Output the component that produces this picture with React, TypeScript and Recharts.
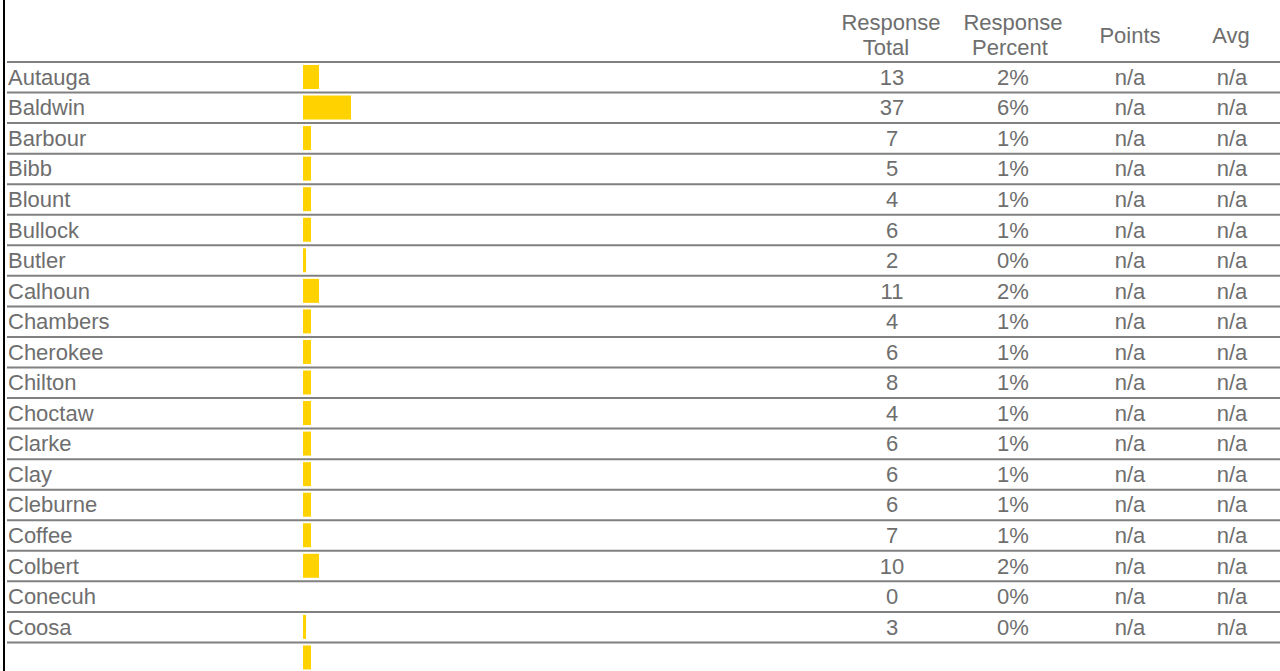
import React from 'react';
import { BarChart, Bar, XAxis, YAxis } from 'recharts';

const counties = ['Autauga', 'Baldwin', 'Barbour', 'Bibb', 'Blount', 'Bullock', 'Butler', 'Calhoun', 'Chambers', 'Cherokee', 'Chilton', 'Choctaw', 'Clarke', 'Clay', 'Cleburne', 'Coffee', 'Colbert', 'Conecuh', 'Coosa', ''];
const responseTotals = ['13', '37', '7', '5', '4', '6', '2', '11', '4', '6', '8', '4', '6', '6', '6', '7', '10', '0', '3', ''];
const responsePercents = ['2%', '6%', '1%', '1%', '1%', '1%', '0%', '2%', '1%', '1%', '1%', '1%', '1%', '1%', '1%', '1%', '2%', '0%', '0%', ''];
const barPercents = [2, 6, 1, 1, 1, 1, 0.375, 2, 1, 1, 1, 1, 1, 1, 1, 1, 2, 0, 0.375, 1];
const pointsValues = ['n/a', 'n/a', 'n/a', 'n/a', 'n/a', 'n/a', 'n/a', 'n/a', 'n/a', 'n/a', 'n/a', 'n/a', 'n/a', 'n/a', 'n/a', 'n/a', 'n/a', 'n/a', 'n/a', ''];
const avgValues = ['n/a', 'n/a', 'n/a', 'n/a', 'n/a', 'n/a', 'n/a', 'n/a', 'n/a', 'n/a', 'n/a', 'n/a', 'n/a', 'n/a', 'n/a', 'n/a', 'n/a', 'n/a', 'n/a', ''];
const headerLines = [
  { text: 'Response', x: 891, y: 29.5 },
  { text: 'Total', x: 886, y: 54.5 },
  { text: 'Response', x: 1013, y: 29.5 },
  { text: 'Percent', x: 1010, y: 54.5 },
  { text: 'Points', x: 1130, y: 42.5 },
  { text: 'Avg', x: 1231, y: 42.5 },
];

const data = counties.map((county, i) => ({ key: `r${i}`, county, pct: barPercents[i] }));

const FONT = '"Liberation Sans", Arial, sans-serif';
const TEXT_COLOR = '#6e6e6e';
const LINE_COLOR = '#808080';
const FS = 22;
const COLS = [892, 1013, 1130, 1232];

const RowTick = (props: any) => {
  const { y, payload, index } = props;
  const half = payload && typeof payload.offset === 'number' && payload.offset > 0 ? payload.offset : 15.275;
  const top = y - half;
  const i = index;
  const ty = y + 7.5;
  const common = { fontFamily: FONT, fontSize: FS, fill: TEXT_COLOR };
  return (
    <g>
      <line x1={7} x2={1280} y1={top} y2={top} stroke={LINE_COLOR} strokeWidth={2} />
      <text x={8} y={ty} textAnchor="start" {...common}>{counties[i]}</text>
      <text x={COLS[0]} y={ty} textAnchor="middle" {...common}>{responseTotals[i]}</text>
      <text x={COLS[1]} y={ty} textAnchor="middle" {...common}>{responsePercents[i]}</text>
      <text x={COLS[2]} y={ty} textAnchor="middle" {...common}>{pointsValues[i]}</text>
      <text x={COLS[3]} y={ty} textAnchor="middle" {...common}>{avgValues[i]}</text>
    </g>
  );
};

export default function App() {
  return (
    <div style={{ position: 'absolute', left: 0, top: 0, width: 1280, height: 671, overflow: 'hidden', background: '#fff' }}>
      <div style={{ position: 'absolute', left: 3, top: 0, width: 2, height: 671, background: '#000' }} />
      <svg style={{ position: 'absolute', left: 0, top: 0 }} width={1280} height={62}>
        {headerLines.map((h, i) => (
          <text key={i} x={h.x} y={h.y} textAnchor="middle" fontFamily={FONT} fontSize={FS} fill={TEXT_COLOR}>{h.text}</text>
        ))}
      </svg>
      <div style={{ position: 'absolute', left: 0, top: 0 }}>
        <BarChart
          width={1280}
          height={680}
          data={data}
          layout="vertical"
          margin={{ top: 62, right: 177, bottom: 7, left: 0 }}
        >
          <XAxis type="number" domain={[0, 100]} hide />
          <YAxis
            type="category"
            dataKey="key"
            width={303}
            axisLine={false}
            tickLine={false}
            interval={0}
            tick={<RowTick />}
          />
          <Bar dataKey="pct" fill="#FFD200" barSize={24} isAnimationActive={false} />
        </BarChart>
      </div>
    </div>
  );
}
